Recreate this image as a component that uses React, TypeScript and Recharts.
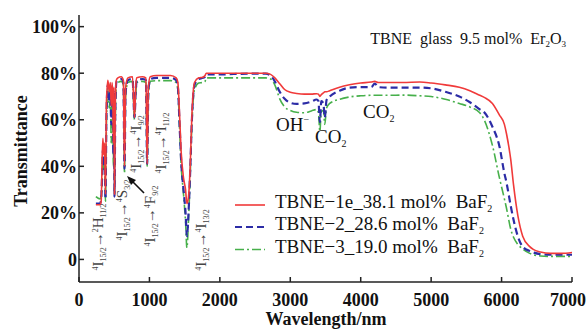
import React from 'react';
import { LineChart, Line, XAxis, YAxis } from 'recharts';

// wavelength grid (nm) shared by the three spectra
const wavelengths = [
  240, 300, 315, 330, 340, 350, 362, 376, 390, 410, 430, 445, 458, 470, 480, 488, 496, 504, 515, 530,
  552, 600, 630, 646, 662, 694, 760, 788, 805, 821, 900, 950, 968, 985, 1011, 1100, 1300, 1380, 1404, 1428,
  1451, 1484, 1513, 1532, 1555, 1579, 1603, 1640, 1700, 1759, 1790, 1806, 2000, 2400, 2650, 2720, 2780, 2850, 2920, 3000,
  3090, 3200, 3300, 3374, 3400, 3420, 3440, 3470, 3490, 3515, 3560, 3700, 3840, 4000, 4150, 4200, 4250, 4400, 4600, 4840,
  5000, 5200, 5400, 5550, 5690, 5760, 5870, 5970, 6040, 6070, 6130, 6170, 6230, 6300, 6400, 6450, 6550, 6700, 6850, 7000,
];

// TBNE-1e 38.1 mol% BaF2
const tbne1 = [
  23.5, 23.5, 25, 45, 52, 45, 50, 28, 68, 77, 72, 76, 66, 76, 70, 50, 74, 28, 66, 77,
  78, 78.5, 77, 40, 74, 78, 78.5, 61, 74, 78, 78.5, 78, 41, 74, 78.5, 79, 79, 78, 76, 62,
  46, 35, 30, 24, 27, 40, 62, 76, 78, 78.3, 79, 80, 80, 80, 80, 79.5, 78, 75.5, 73, 71.8,
  71.3, 71, 71, 71.2, 71, 70, 70.8, 71.5, 72, 72, 72.5, 74, 75, 75.8, 76.2, 76.5, 76, 76, 76, 76.2,
  75.8, 75, 74, 72.5, 70.5, 69.5, 67, 62, 58, 54, 43, 32, 19, 10, 5.5, 4.3, 3.2, 2.6, 2.6, 3,
];

// TBNE-2 28.6 mol% BaF2
const tbne2 = [
  24, 24, 26, 38, 47, 40, 45, 26, 62, 75, 68, 74, 58, 74, 66, 45, 72, 27, 62, 76,
  77, 77.5, 76, 39, 72, 77, 77.5, 61, 72, 77, 77.5, 77, 41, 72, 77.5, 78, 78, 77, 74, 58,
  42, 30, 20, 10, 20, 38, 60, 75, 77.5, 78, 78.5, 79.5, 79.5, 79.8, 79.8, 79, 76.5, 72, 69, 67.3,
  66.8, 67, 67.8, 68.7, 68, 59, 68, 67, 61, 68.5, 70, 72.5, 73.8, 74, 74, 75.5, 74, 73.8, 73.8, 73.8,
  73.5, 72, 70, 67.5, 64.5, 63, 57, 48.5, 37, 33, 23, 17, 10, 5.5, 3.6, 3, 2.3, 2, 2, 2,
];

// TBNE-3 19.0 mol% BaF2
const tbne3 = [
  27, 26, 27, 35, 44, 38, 42, 25, 58, 73, 65, 72, 50, 72, 62, 40, 70, 28, 58, 75,
  76, 76.5, 75, 37, 70, 76, 76.5, 60, 70, 76, 76.5, 76, 40, 70, 76.5, 76.8, 76.8, 76, 73, 56,
  40, 28, 16, 5, 17, 36, 58, 73, 75.8, 76, 76.5, 78, 78, 78, 78, 77.5, 75, 69, 65.5, 64,
  63.2, 63, 63.8, 64.4, 63, 55, 63.5, 64, 58, 65, 67, 68.8, 69.8, 70.3, 70.5, 70.5, 70.5, 70.5, 70.6, 70.3,
  70, 68.8, 67, 65.5, 63, 59.5, 49, 35, 26, 22, 13, 9.5, 6.5, 4.5, 2.6, 2, 1.5, 1.3, 1.3, 1.3,
];

const xTicks = [0, 1000, 2000, 3000, 4000, 5000, 6000, 7000];
const yTicks = [0, 20, 40, 60, 80, 100];

const data = wavelengths.map((w, i) => ({ w, t1: tbne1[i], t2: tbne2[i], t3: tbne3[i] }));

const FONT = '"Liberation Serif", "Times New Roman", serif';

type Part = { t: string; size: number; shift: number };

const runs = (parts: Part[]) => {
  let prev = 0;
  return parts.map((p, i) => {
    const dy = p.shift - prev;
    prev = p.shift;
    return (
      <tspan key={i} fontSize={p.size} dy={dy}>
        {p.t}
      </tspan>
    );
  });
};

const transition = (sup: string, sym: string, sub: string): Part[] => [
  { t: '4', size: 8, shift: -5 },
  { t: 'I', size: 15, shift: 0 },
  { t: '15/2', size: 8, shift: 3 },
  { t: '→', size: 15, shift: 0 },
  { t: sup, size: 8, shift: -5 },
  { t: sym, size: 15, shift: 0 },
  { t: sub, size: 8, shift: 3 },
];

const transitions = [
  { x: 103, y: 237, parts: transition('2', 'H', '11/2') },
  { x: 127, y: 210, parts: transition('4', 'S', '3/2') },
  { x: 155, y: 216, parts: transition('4', 'F', '9/2') },
  { x: 141, y: 144, parts: transition('4', 'I', '9/2') },
  { x: 166, y: 143, parts: transition('4', 'I', '11/2') },
  { x: 206, y: 240, parts: transition('4', 'I', '13/2') },
];

const legendItems = [
  { color: '#f03a3a', dash: undefined, width: 1.6, y: 205, label: 'TBNE−1e_38.1 mol%  BaF' },
  { color: '#2c2ca6', dash: '7 4', width: 2.2, y: 227, label: 'TBNE−2_28.6 mol%  BaF' },
  { color: '#47b04b', dash: '9 3 2 3', width: 1.6, y: 249.5, label: 'TBNE−3_19.0 mol%  BaF' },
];

const XTick = (props: any) => {
  const { x, y, payload } = props;
  const last = payload.value === 7000;
  return (
    <text
      x={last ? x + 14 : x}
      y={y}
      dy="0.71em"
      textAnchor={last ? 'end' : 'middle'}
      fill="#111"
      fontSize={18}
      fontWeight="bold"
      fontFamily={FONT}
    >
      {payload.value}
    </text>
  );
};

const Overlay = () => (
  <svg
    width={588}
    height={329}
    style={{ position: 'absolute', left: 0, top: 0, pointerEvents: 'none' }}
    fontFamily={FONT}
  >
    <text x={566} y={44} textAnchor="end" fontSize={16} fill="#111" style={{ whiteSpace: 'pre' }}>
      {runs([
        { t: 'TBNE  glass  9.5 mol%  Er', size: 16, shift: 0 },
        { t: '2', size: 9, shift: 3 },
        { t: 'O', size: 16, shift: 0 },
        { t: '3', size: 9, shift: 3 },
      ])}
    </text>

    <text x={276} y={131} fontSize={19} fill="#111">
      {runs([
        { t: 'OH', size: 19, shift: 0 },
        { t: '−', size: 10, shift: -8 },
      ])}
    </text>
    <text x={315} y={143} fontSize={19} fill="#111">
      {runs([
        { t: 'CO', size: 19, shift: 0 },
        { t: '2', size: 10, shift: 4 },
      ])}
    </text>
    <text x={363} y={118} fontSize={19} fill="#111">
      {runs([
        { t: 'CO', size: 19, shift: 0 },
        { t: '2', size: 10, shift: 4 },
      ])}
    </text>

    {transitions.map((tr, i) => (
      <text
        key={i}
        transform={`translate(${tr.x},${tr.y}) rotate(-90)`}
        textAnchor="middle"
        fill="#444"
      >
        {runs(tr.parts)}
      </text>
    ))}

    <line x1={144} y1={193} x2={131} y2={180} stroke="#111" strokeWidth={1.6} />
    <polygon points="127,176 136,180 131,185" fill="#111" />

    {legendItems.map((it, i) => (
      <g key={i}>
        <line x1={235} x2={265} y1={it.y} y2={it.y} stroke={it.color} strokeWidth={it.width} strokeDasharray={it.dash} />
        <text x={275} y={it.y + 3} fontSize={19} fill="#111" style={{ whiteSpace: 'pre' }}>
          {runs([
            { t: it.label, size: 19, shift: 0 },
            { t: '2', size: 10, shift: 4 },
          ])}
        </text>
      </g>
    ))}

    <text
      transform="translate(27,151) rotate(-90)"
      textAnchor="middle"
      fontSize={18}
      fontWeight="bold"
      fill="#111"
    >
      Transmittance
    </text>
    <text x={326} y={325} textAnchor="middle" fontSize={18} fontWeight="bold" fill="#111">
      Wavelength/nm
    </text>
  </svg>
);

const App = () => {
  const tickStyle = { fill: '#111', fontSize: 18, fontFamily: FONT, fontWeight: 'bold' as const };
  return (
    <div style={{ position: 'absolute', left: 0, top: 0, width: 588, height: 329, background: '#fff' }}>
      <LineChart width={588} height={329} data={data} margin={{ top: 15, right: 16, bottom: 0, left: 7 }}>
        <XAxis
          dataKey="w"
          type="number"
          domain={[0, 7000]}
          ticks={xTicks}
          interval={0}
          height={47}
          tickSize={-5}
          tickMargin={16}
          stroke="#222"
          strokeWidth={1.5}
          tick={<XTick />}
          allowDataOverflow
        />
        <XAxis
          xAxisId="top"
          orientation="top"
          dataKey="w"
          type="number"
          domain={[0, 7000]}
          height={0}
          tick={false}
          tickLine={false}
          stroke="#222"
          strokeWidth={1.5}
        />
        <YAxis
          type="number"
          domain={[-9.7, 105]}
          ticks={yTicks}
          interval={0}
          width={72}
          tickSize={-5}
          tickMargin={7}
          stroke="#222"
          strokeWidth={1.5}
          tick={tickStyle}
          tickFormatter={(v: number) => (v === 0 ? '0' : `${v}%`)}
          allowDataOverflow
        />
        <YAxis
          yAxisId="right"
          orientation="right"
          type="number"
          domain={[-9.7, 105]}
          width={0}
          tick={false}
          tickLine={false}
          stroke="#222"
          strokeWidth={1.5}
        />
        <Line
          dataKey="t3"
          type="monotone"
          stroke="#47b04b"
          strokeWidth={1.6}
          strokeDasharray="9 3 2 3"
          dot={false}
          isAnimationActive={false}
        />
        <Line
          dataKey="t2"
          type="monotone"
          stroke="#2c2ca6"
          strokeWidth={2.2}
          strokeDasharray="7 4"
          dot={false}
          isAnimationActive={false}
        />
        <Line
          dataKey="t1"
          type="monotone"
          stroke="#f03a3a"
          strokeWidth={1.6}
          dot={false}
          isAnimationActive={false}
        />
      </LineChart>
      <Overlay />
    </div>
  );
};

export default App;
